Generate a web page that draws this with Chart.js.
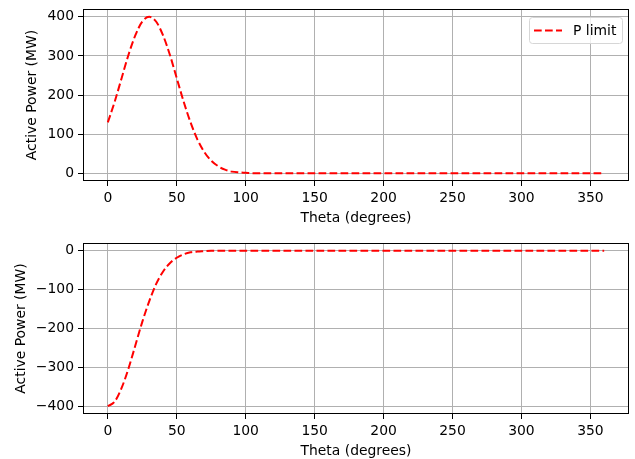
<!DOCTYPE html>
<html>
<head>
<meta charset="utf-8">
<script src="https://cdn.jsdelivr.net/npm/chart.js@4"></script>
<style>
  html, body { margin: 0; padding: 0; background: #fff; }
  #wrap { position: relative; width: 635px; height: 459px; }
  canvas { position: absolute; left: 0; }
</style>
</head>
<body>
<div id="wrap">
  <canvas id="top-chart" width="635" height="229" style="top:0px"></canvas>
  <canvas id="bottom-chart" width="635" height="229" style="top:230px"></canvas>
</div>
<script>
// values
const thetaTop = [0, 5, 10, 15, 20, 25, 30, 35, 40, 45, 50, 55, 60, 65, 70, 75, 80, 85, 90, 95, 100, 105, 150, 200, 250, 300, 360];
const powerTop = [130, 183, 243, 303, 353, 388, 400, 388, 353, 303, 243, 183, 130, 86, 54, 32, 18, 9, 4, 2, 1, 0, 0, 0, 0, 0, 0];

const thetaBottom = [0, 5, 10, 15, 20, 25, 30, 35, 40, 45, 50, 55, 60, 65, 70, 75, 100, 150, 200, 250, 300, 360];
const powerBottom = [-400, -388, -353, -303, -243, -183, -130, -86, -54, -32, -18, -9, -4, -2, -1, 0, 0, 0, 0, 0, 0, 0];

const xTicks = [0, 50, 100, 150, 200, 250, 300, 350];
const topYTicks = [0, 100, 200, 300, 400];
const bottomYTicks = [-400, -300, -200, -100, 0];

const seriesLabel = 'P limit';
const xTitle = 'Theta (degrees)';
const yTitle = 'Active Power (MW)';

const FONT = { family: 'DejaVu Sans', size: 13.9 };

 // frame round the plot area and the boxed legend
const framePlugin = {
    id: 'frame',
    afterDraw(chart, args, opts) {
        const ctx = chart.ctx;
        const a = chart.chartArea;
        ctx.save();
        ctx.strokeStyle = '#000';
        ctx.lineWidth = 1;
        ctx.strokeRect(Math.round(a.left) + 0.5, Math.round(a.top) + 0.5,
            Math.round(a.right - a.left) - 1, Math.round(a.bottom - a.top) - 1);
        if (opts.legend) {
            const ds = chart.data.datasets[0];
            const w = 93, h = 26;
            const x = a.right - 7 - w, y = a.top + 8;
            ctx.beginPath();
            ctx.roundRect(x + 0.5, y + 0.5, w, h, 3);
            ctx.fillStyle = 'rgba(255,255,255,0.8)';
            ctx.fill();
            ctx.strokeStyle = '#d6d6d6';
            ctx.stroke();
            ctx.beginPath();
            ctx.setLineDash(ds.borderDash);
            ctx.strokeStyle = ds.borderColor;
            ctx.lineWidth = ds.borderWidth;
            ctx.moveTo(x + 5, y + h / 2 + 0.5);
            ctx.lineTo(x + 33, y + h / 2 + 0.5);
            ctx.stroke();
            ctx.setLineDash([]);
            ctx.fillStyle = '#000';
            ctx.font = FONT.size + 'px ' + FONT.family;
            ctx.textBaseline = 'middle';
            ctx.fillText(ds.label, x + 44, y + h / 2 + 1);
        }
        ctx.restore();
    }
};

function minusLabel(v) {
    return v < 0 ? '\u2212' + Math.abs(v) : String(v);
}

 // drop the padding chart.js adds for the outermost labels
function noEdgePadding(axis) {
    axis.paddingTop = 0;
    axis.paddingBottom = 0;
    axis.paddingLeft = 0;
    axis.paddingRight = 0;
}

function makeChart(id, xs, ys, yMin, yMax, yTicks, opts) {
    const ctx = document.getElementById(id).getContext('2d');
    return new Chart(ctx, {
        type: 'line',
        data: {
            datasets: [{
                label: seriesLabel,
                data: xs.map((x, i) => ({ x: x, y: ys[i] })),
                borderColor: '#ff0000',
                borderWidth: 2,
                borderDash: [7.7, 3.3],
                pointRadius: 0,
                fill: false,
                cubicInterpolationMode: 'monotone'
            }]
        },
        options: {
            responsive: false,
            animation: false,
            devicePixelRatio: 1,
            layout: { padding: { top: opts.padTop, right: 6, left: 0, bottom: 0 } },
            plugins: {
                legend: { display: false },
                tooltip: { enabled: false },
                frame: { legend: opts.legend }
            },
            scales: {
                x: {
                    type: 'linear',
                    min: -18,
                    max: 378,
                    afterBuildTicks: axis => { axis.ticks = xTicks.map(v => ({ value: v })); },
                    afterFit: axis => { axis.height = opts.xHeight; noEdgePadding(axis); },
                    grid: { color: '#b0b0b0', lineWidth: 1, tickColor: '#000', tickLength: 5 },
                    border: { display: false },
                    ticks: { color: '#000', font: FONT, padding: 4.5, maxRotation: 0, autoSkip: false },
                    title: { display: true, text: xTitle, color: '#000', font: FONT,
                        padding: { top: 0, bottom: opts.xTitlePad } }
                },
                y: {
                    type: 'linear',
                    min: yMin,
                    max: yMax,
                    afterBuildTicks: axis => { axis.ticks = yTicks.map(v => ({ value: v })); },
                    afterFit: axis => { axis.width = 83; noEdgePadding(axis); },
                    grid: { color: '#b0b0b0', lineWidth: 1, tickColor: '#000', tickLength: 5 },
                    border: { display: false },
                    ticks: { color: '#000', font: FONT, padding: 4, autoSkip: false,
                        callback: v => minusLabel(v) },
                    title: { display: true, text: yTitle, color: '#000', font: FONT,
                        padding: { top: opts.yTitlePad, bottom: 0 } }
                }
            }
        },
        plugins: [framePlugin]
    });
}

makeChart('top-chart', thetaTop, powerTop, -20, 420, topYTicks,
    { padTop: 9, xHeight: 48, xTitlePad: 2, yTitlePad: 24.5, legend: true });
makeChart('bottom-chart', thetaBottom, powerBottom, -420, 20, bottomYTicks,
    { padTop: 13, xHeight: 45, xTitlePad: -1, yTitlePad: 13.5, legend: false });
</script>
</body>
</html>
